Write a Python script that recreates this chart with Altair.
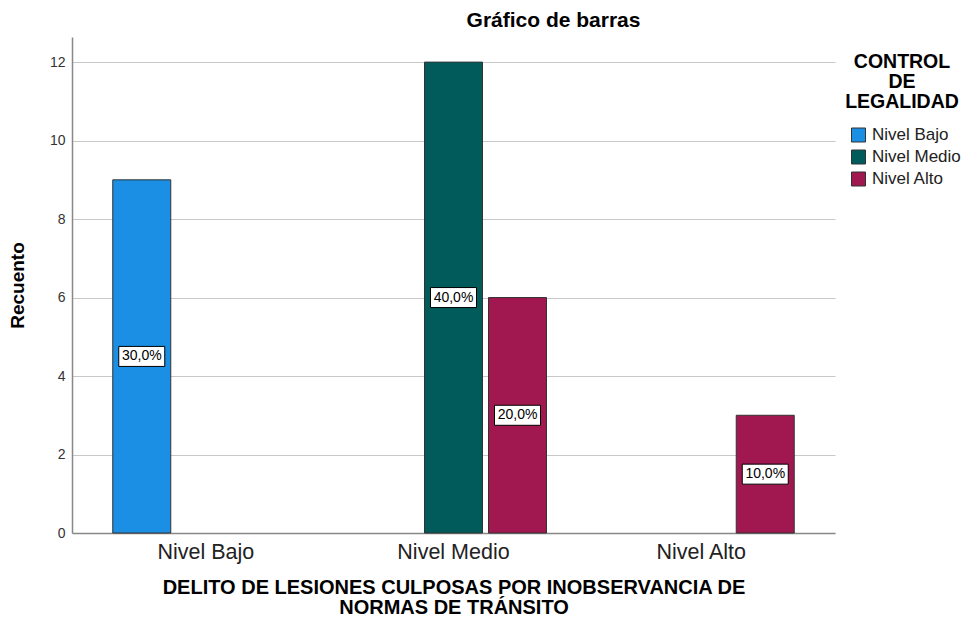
import altair as alt
import pandas as pd

categories = ["Nivel Bajo", "Nivel Medio", "Nivel Alto"]
series = ["Nivel Bajo", "Nivel Medio", "Nivel Alto"]
colors = ["#1a8fe3", "#015b5b", "#a0184f"]

bar_cat = ["Nivel Bajo", "Nivel Medio", "Nivel Medio", "Nivel Alto"]
bar_series = ["Nivel Bajo", "Nivel Medio", "Nivel Alto", "Nivel Alto"]
counts = [9, 12, 6, 3]
pct_labels = ["30,0%", "40,0%", "20,0%", "10,0%"]

df = pd.DataFrame({
    "cat": bar_cat,
    "ser": bar_series,
    "n": counts,
    "lab": pct_labels,
})

FONT = "Liberation Sans"

x_enc = alt.X(
    "cat:N",
    sort=categories,
    scale=alt.Scale(domain=categories, paddingInner=0, paddingOuter=0.04),
    axis=alt.Axis(
        title=["DELITO DE LESIONES CULPOSAS POR INOBSERVANCIA DE", "NORMAS DE TRÁNSITO"],
        titleFont=FONT, titleFontSize=20, titleFontWeight="bold", titleColor="#000000",
        titlePadding=15, titleLineHeight=20,
        labelFont=FONT, labelFontSize=21.5, labelColor="#222222", labelPadding=8,
        labelAngle=0, ticks=False, domainColor="#888888", domainWidth=1.5,
        grid=False,
    ),
)
xoff_enc = alt.XOffset(
    "ser:N",
    sort=series,
    scale=alt.Scale(domain=series, paddingInner=0.094, paddingOuter=0.482),
)
y_scale = alt.Scale(domain=[0, 12.64], nice=False, zero=True)

bars = alt.Chart(df).mark_bar(stroke="#333333", strokeWidth=1).encode(
    x=x_enc,
    xOffset=xoff_enc,
    y=alt.Y(
        "n:Q",
        scale=y_scale,
        axis=alt.Axis(
            title="Recuento", titleFont=FONT, titleFontSize=19, titleFontWeight="bold",
            titleColor="#000000", titlePadding=22,
            values=[0, 2, 4, 6, 8, 10, 12], labelFont=FONT, labelFontSize=14,
            labelColor="#333333", labelPadding=7, ticks=False,
            domainColor="#888888", domainWidth=1.5,
            grid=True, gridColor="#c8c8c8", gridWidth=1.2,
        ),
    ),
    color=alt.Color(
        "ser:N",
        sort=series,
        scale=alt.Scale(domain=series, range=colors),
        legend=alt.Legend(
            title=["CONTROL", "DE", "LEGALIDAD"],
            titleFont=FONT, titleFontSize=19.5, titleFontWeight="bold", titleColor="#000000",
            titleAlign="center", titleAnchor="middle", titleLineHeight=20, titlePadding=14,
            labelFont=FONT, labelFontSize=17, labelColor="#222222", labelOffset=5,
            symbolType="square", symbolSize=196, symbolStrokeColor="#333333",
            symbolStrokeWidth=1, symbolOpacity=1, symbolOffset=7, rowPadding=3,
            orient="none", legendX=771, legendY=16,
        ),
    ),
)

boxes = alt.Chart(df).transform_calculate(mid="datum.n / 2").mark_point(
    shape="M-1,-0.435L1,-0.435L1,0.435L-1,0.435Z",
    size=2116, filled=True, fill="white", stroke="#000000", strokeWidth=1, opacity=1,
).encode(
    x=alt.X("cat:N", sort=categories),
    xOffset=alt.XOffset("ser:N", sort=series),
    y=alt.Y("mid:Q", scale=y_scale),
)

texts = alt.Chart(df).transform_calculate(mid="datum.n / 2").mark_text(
    font=FONT, fontSize=14, color="#000000", baseline="middle", align="center",
).encode(
    x=alt.X("cat:N", sort=categories),
    xOffset=alt.XOffset("ser:N", sort=series),
    y=alt.Y("mid:Q", scale=y_scale),
    text="lab:N",
)

chart = alt.layer(bars, boxes, texts).properties(
    width=763,
    height=496,
    background="white",
    title=alt.TitleParams(
        "Gráfico de barras", font=FONT, fontSize=21, fontWeight="bold", color="#000000",
        anchor="middle", dx=100, offset=6,
    ),
    autosize=alt.AutoSizeParams(type="none"),
    padding={"left": 64, "top": 29, "right": 127, "bottom": 85},
).configure_view(stroke=None)

chart.save("out.html", embed_options={"renderer": "svg", "actions": False})
